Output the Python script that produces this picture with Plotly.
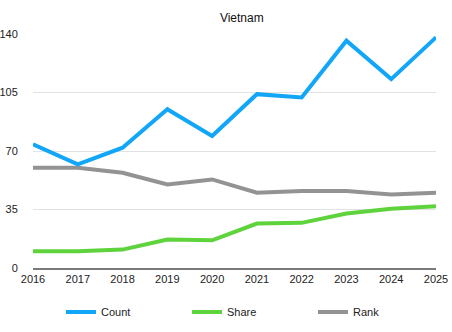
import plotly.graph_objects as go

years = [2016, 2017, 2018, 2019, 2020, 2021, 2022, 2023, 2024, 2025]
count = [74, 62, 72, 95, 79, 104, 102, 136, 113, 138]
share = [10, 10, 11, 17, 16.6, 26.6, 27, 32.6, 35.4, 37]
rank = [60, 60, 57, 50, 53, 45, 46, 46, 44, 45]
y_ticks = [0, 35, 70, 105, 140]

fig = go.Figure()
fig.add_trace(go.Scatter(x=years, y=rank, name="Rank", mode="lines",
                         line=dict(color="#939393", width=4), legendrank=3))
fig.add_trace(go.Scatter(x=years, y=share, name="Share", mode="lines",
                         line=dict(color="#5ed33c", width=4), legendrank=2))
fig.add_trace(go.Scatter(x=years, y=count, name="Count", mode="lines",
                         line=dict(color="#12a6f8", width=4), legendrank=1))

fig.update_layout(
    width=452, height=332,
    margin=dict(l=33, r=16, t=34, b=64, autoexpand=False),
    paper_bgcolor="white", plot_bgcolor="white",
    font=dict(family="Liberation Sans, Arial, sans-serif", size=11, color="#222"),
    title=dict(text="Vietnam", x=0.535, xanchor="center", y=0.945, yanchor="middle",
               font=dict(size=12, color="#111")),
    showlegend=True,
    legend=dict(orientation="h", x=0.553, xanchor="center", xref="container",
                y=0.06, yanchor="middle", yref="container",
                entrywidth=81, entrywidthmode="pixels",
                traceorder="normal", font=dict(size=11)),
    xaxis=dict(range=[2016, 2025], tickmode="array", tickvals=years,
               showgrid=False, showline=True, linecolor="#7a7a7a", linewidth=2,
               ticks="", zeroline=False, fixedrange=True),
    yaxis=dict(range=[0, 140], tickmode="array", tickvals=y_ticks,
               showgrid=True, gridcolor="#e2e2e2", gridwidth=1,
               zeroline=False, showline=False, ticks="outside", ticklen=12,
               tickcolor="rgba(0,0,0,0)", fixedrange=True),
)

fig.write_html("out.html")
